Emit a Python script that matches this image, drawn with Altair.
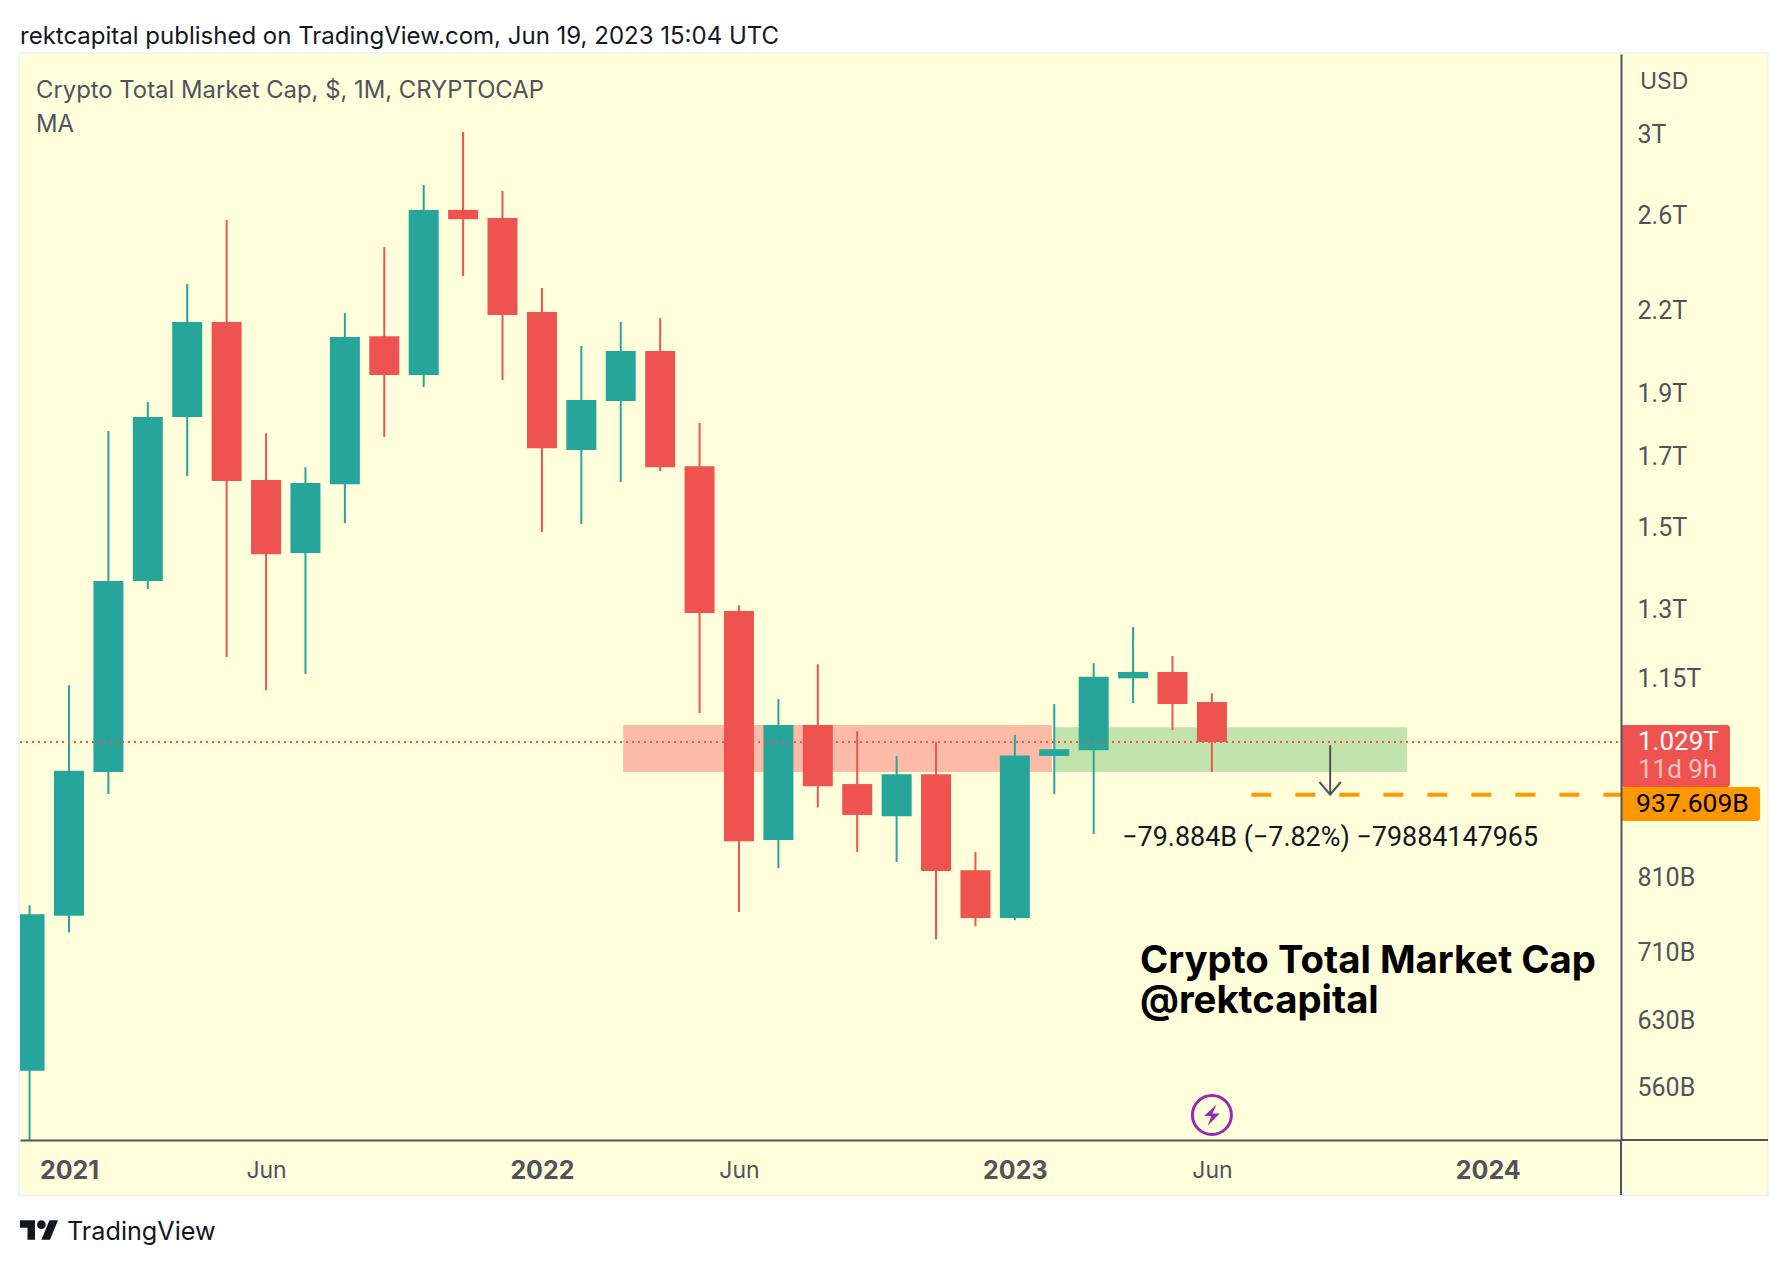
import altair as alt
import pandas as pd

# ---- values (USD billions) ----
months = ["2020-12","2021-01","2021-02","2021-03","2021-04","2021-05","2021-06","2021-07","2021-08","2021-09","2021-10","2021-11","2021-12",
          "2022-01","2022-02","2022-03","2022-04","2022-05","2022-06","2022-07","2022-08","2022-09","2022-10","2022-11","2022-12",
          "2023-01","2023-02","2023-03","2023-04","2023-05","2023-06"]
opens  = [577,758,976,1366,1823,2155,1632,1435,1620,2102,1963,2625,2588,2193,1720,1875,2048,1672,1296,866,1060,955.6,903,972,821,755,1004,1014,1151,1164,1104]
highs  = [772,1137,1779,1872,2304,2579,1772,1669,2189,2459,2743,3011,2714,2288,2066,2155,2170,1804,1309,1110,1180,1049,1004,1029,848,1042,1100,1182,1260,1197,1121]
lows   = [500,736,939,1347,1643,1195,1127,1160,1513,1760,1922,2337,1946,1489,1510,1626,1658,1083,763,824,917,848,833,727,744,752,939,875,1102,1051,976]
closes = [760,978,1366,1823,2155,1629,1432,1623,2099,1963,2625,2583,2182,1726,1879,2048,1669,1291,864,1060,952,905,972,820,755,1005,1016,1154,1164,1100,1029]
month_idx = list(range(-1, 30))

y_ticks = [3000,2600,2200,1900,1700,1500,1300,1150,810,710,630,560]
x_ticks = [0,5,12,17,24,29,36]
x_tick_labels = ["2021","Jun","2022","Jun","2023","Jun","2024"]

last_price = 1029
target_price = 937.609
red_zone = [14.06, 24.94, 976, 1060]
green_zone = [25.02, 33.95, 976, 1056]
target_start = 30.0
arrow_x = [31.73, 32.0, 32.27]
arrow_y = [959, 938, 959]
arrow_top = 1023

GREEN, RED, INK, ORANGE = "#26A69A", "#EF5350", "#50535E", "#FF9800"
BG = "#FFFFDB"
FONT = "Inter"
NUM = "Roboto"

PLOT_W, PLOT_H = 1601, 1086
xs = alt.Scale(domain=[-1.243, 39.38], nice=False, zero=False, padding=0)
ys = alt.Scale(type="log", domain=[510.7, 3454], nice=False, padding=0)

df = pd.DataFrame({"i": month_idx, "month": months, "o": opens, "h": highs, "l": lows, "c": closes})
df["dir"] = ["up" if c > o else "down" for o, c in zip(opens, closes)]
col = alt.Color("dir:N", scale=alt.Scale(domain=["up", "down"], range=[GREEN, RED]), legend=None)
one = alt.Data(values=[{"a": 1}])

x_expr = "[" + ",".join(f"'{s}'" for s in x_tick_labels) + "][indexof([" + ",".join(map(str, x_ticks)) + "],datum.value)]"
x_axis = alt.Axis(values=x_ticks, title=None, grid=False, ticks=False, labelExpr=x_expr, labelFont=FONT,
                  labelFontSize=alt.expr("datum.value % 12 == 0 ? 25 : 23"),
                  labelColor=INK, labelBaseline="middle", labelPadding=30, labelFlush=False, labelOverlap=False, labelBound=False,
                  labelFontWeight=alt.expr("datum.value % 12 == 0 ? 'bold' : 'normal'"), domainColor=INK, domainWidth=2, zindex=1)
y_axis = alt.Axis(values=y_ticks, orient="right", title=None, grid=False, ticks=False, labelFont=NUM, labelFontSize=25, labelColor=INK,
                  labelAlign="left", labelPadding=16, labelOverlap=False, labelBound=False, labelFlush=False, domainColor=INK, domainWidth=2, zindex=1,
                  labelExpr="datum.value >= 1000 ? (datum.value / 1000) + 'T' : datum.value + 'B'")

X0 = alt.X("x:Q", scale=xs, axis=x_axis)
Y0 = alt.Y("y:Q", scale=ys, axis=y_axis)

def txt(s, x, y, size, color=INK, weight="normal", align="left", font=FONT):
    return alt.Chart(one).mark_text(text=s, font=font, fontSize=size, color=color, fontWeight=weight, align=align, baseline="middle").encode(
        x=alt.value(x), y=alt.value(y))

def box(x, x2, y, y2, **kw):
    return alt.Chart(one).mark_rect(**kw).encode(x=alt.value(x), x2=alt.value(x2), y=alt.value(y), y2=alt.value(y2))

panel = box(-1, 1748, -1, 1141.5, fill=BG, stroke="#F0F3FA", strokeWidth=2)

def zone(z, color):
    return alt.Chart(pd.DataFrame({"x": [z[0]], "x2": [z[1]], "y": [z[2]], "y2": [z[3]]})).mark_rect(color=color, clip=True).encode(
        x=X0, x2="x2:Q", y=Y0, y2="y2:Q")

zones = zone(red_zone, "#FBBBA7") + zone(green_zone, "#C2E3AB")

wicks = alt.Chart(df).mark_rule(strokeWidth=2, clip=True).encode(
    x=alt.X("i:Q", scale=xs, axis=x_axis), y=alt.Y("l:Q", scale=ys, axis=y_axis), y2="h:Q", color=col)
bodies = alt.Chart(df).mark_bar(width=30, clip=True).encode(
    x=alt.X("i:Q", scale=xs, axis=x_axis), y=alt.Y("o:Q", scale=ys, axis=y_axis), y2="c:Q", color=col)

dotted = alt.Chart(pd.DataFrame({"y": [last_price]})).mark_rule(color=RED, strokeWidth=2, strokeDash=[2, 4]).encode(
    y=Y0, x=alt.value(0), x2=alt.value(PLOT_W))
dashed = alt.Chart(pd.DataFrame({"y": [target_price], "x": [target_start]})).mark_rule(color=ORANGE, strokeWidth=4, strokeDash=[20, 24]).encode(
    y=Y0, x=X0, x2=alt.value(PLOT_W))
arrow_line = alt.Chart(pd.DataFrame({"x": [arrow_x[1]], "y": [arrow_top], "y2": [arrow_y[1]]})).mark_rule(color=INK, strokeWidth=2).encode(
    x=X0, y=Y0, y2="y2:Q")
arrow_head = alt.Chart(pd.DataFrame({"x": arrow_x, "y": arrow_y, "o": [0, 1, 2]})).mark_line(color=INK, strokeWidth=2).encode(
    x=X0, y=Y0, order="o:Q")
measure = alt.Chart(pd.DataFrame({"x": [32.0], "y": [869]})).mark_text(
    text="\u221279.884B (\u22127.82%) \u221279884147965", font=NUM, fontSize=26.9, color="#131722", align="center", baseline="middle").encode(x=X0, y=Y0)

rules = (alt.Chart(one).mark_rule(color=INK, strokeWidth=2).encode(x=alt.value(PLOT_W), y=alt.value(PLOT_H), y2=alt.value(1141))
         + alt.Chart(one).mark_rule(color=INK, strokeWidth=2).encode(x=alt.value(PLOT_W), x2=alt.value(1748), y=alt.value(PLOT_H)))

watermark = txt("Crypto Total Market Cap", 1120, 908, 38.3, "#000000", "bold") + txt("@rektcapital", 1120, 948, 38.3, "#000000", "bold")
legend_txt = txt("Crypto Total Market Cap, $, 1M, CRYPTOCAP", 16, 36.5, 23.85) + txt("MA", 16, 70.5, 23.85) + txt("USD", 1620, 28, 23)

tag_red = box(1601, 1710, 671, 733, fill=RED, cornerRadius=3)
tag_org = box(1601, 1740, 733, 767, fill=ORANGE, cornerRadius=3)
tags = (tag_red + tag_org + txt("1.029T", 1618, 688, 26, "#FFFFFF", font=NUM) + txt("11d 9h", 1618, 716, 26, "#FBC4C3", font=NUM)
        + txt("937.609B", 1616, 750, 26.5, "#000000", font=NUM))

LOGO = "M-3.75 9H-10.75V-2H-17.75V-9H-3.75ZM10.25 9H2.25L9.75 -9H17.75ZM-1.75 -5a4 4 0 1 0 8 0a4 4 0 1 0 -8 0Z"
BOLT = "M0.45 -1L-0.75 0.1L-0.05 0.1L-0.4 1L0.75 -0.15L0.05 -0.15Z"
logo = alt.Chart(one).mark_point(shape=LOGO, filled=True, size=4.58, color="#131722", opacity=1).encode(x=alt.value(19), y=alt.value(1176))
footer = logo + txt("TradingView", 47, 1178, 25.2, "#131722")

event_df = pd.DataFrame({"x": [29]})
event = (alt.Chart(event_df).mark_point(shape="circle", size=1521, stroke="#9C27B0", strokeWidth=3, fill=None, opacity=1).encode(x=X0, y=alt.value(1061))
         + alt.Chart(event_df).mark_point(shape=BOLT, size=441, filled=True, color="#9C27B0", opacity=1).encode(x=X0, y=alt.value(1061)))

chart = alt.layer(panel, zones, wicks, bodies, dotted, dashed, arrow_line, arrow_head, measure, rules,
                  watermark, legend_txt, tags, footer, event).properties(
    width=PLOT_W, height=PLOT_H,
    autosize=alt.AutoSizeParams(type="none"),
    padding={"left": 12, "top": 46, "right": 159, "bottom": 118},
    background="#FFFFFF",
    title=alt.TitleParams("rektcapital published on TradingView.com, Jun 19, 2023 15:04 UTC", anchor="start", frame="group",
                          font=FONT, fontSize=24, fontWeight="normal", color="#131722", offset=3),
).configure_view(stroke=None)

chart.save("out.html", embed_options={"renderer": "svg", "actions": False})
